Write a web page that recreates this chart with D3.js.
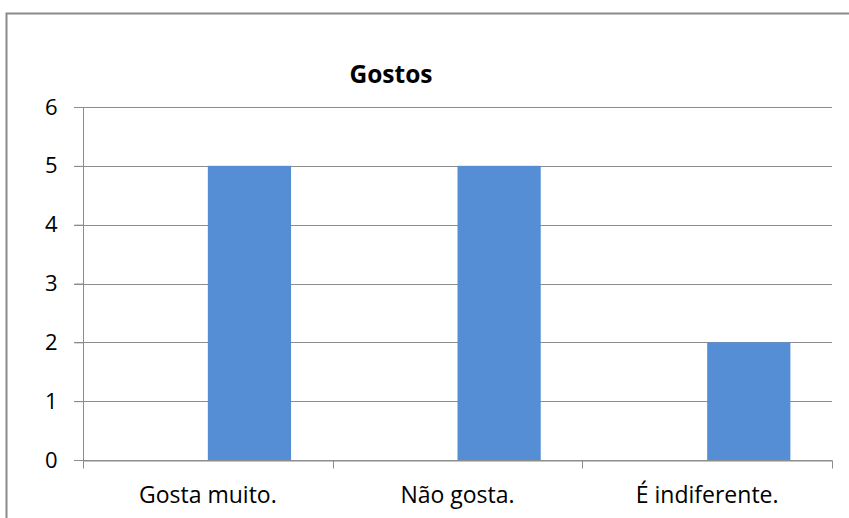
<!DOCTYPE html>
<html>
<head>
<meta charset="utf-8">
<script src="https://cdn.jsdelivr.net/npm/d3@7"></script>
<style>
  html, body { margin: 0; padding: 0; background: #fff; }
  svg { display: block; }
  text { font-family: "Open Sans", "Noto Sans", sans-serif; fill: #000; }
</style>
</head>
<body>
<svg id="chart" width="849" height="518"></svg>
<script>
// Chart data
const categories = ["Gosta muito.", "Não gosta.", "É indiferente."];
const values = [5, 5, 2];
const yTicks = [0, 1, 2, 3, 4, 5, 6];
const title = "Gostos";

const svg = d3.select("#chart");
const plot = { left: 83, right: 832, top: 107, bottom: 460 };
const labelFont = "Open Sans, sans-serif";

// Outer frame (runs off the right and bottom edges)
svg.append("rect")
  .attr("x", 6.5).attr("y", 13.5)
  .attr("width", 900).attr("height", 600)
  .attr("fill", "#fff")
  .attr("stroke", "#8a8a8a")
  .attr("stroke-width", 2);

const x = d3.scaleBand().domain(categories).range([plot.left, plot.right]).padding(0);
const y = d3.scaleLinear().domain([0, 6]).range([plot.bottom, plot.top]);

// Each category holds two bar slots; the value sits in the second one
const slot = d3.scaleBand().domain(["a", "b"]).range([0, x.bandwidth()]).paddingOuter(0.5).paddingInner(0);

// Horizontal gridlines
svg.append("g")
  .selectAll("line")
  .data(yTicks)
  .join("line")
  .attr("x1", plot.left - 9).attr("x2", plot.right)
  .attr("y1", d => Math.round(y(d)) + 0.5).attr("y2", d => Math.round(y(d)) + 0.5)
  .attr("stroke", "#8c8c8c").attr("stroke-width", 1);

// Bars
svg.append("g")
  .selectAll("rect")
  .data(categories)
  .join("rect")
  .attr("x", (d) => x(d) + slot("b"))
  .attr("width", slot.bandwidth())
  .attr("y", (d, i) => y(values[i]))
  .attr("height", (d, i) => y(0) - y(values[i]))
  .attr("fill", "#558ed5");

// Y axis
const yAxis = d3.axisLeft(y).tickValues(yTicks).tickFormat(d3.format("d")).tickSize(9).tickPadding(17);
const gy = svg.append("g").attr("transform", `translate(${plot.left + 0.5},0)`).call(yAxis);
gy.select(".domain").attr("stroke", "#8c8c8c").attr("d", `M0,${plot.top}V${plot.bottom + 8}`);
gy.selectAll(".tick line").attr("stroke", "#8c8c8c");
gy.selectAll(".tick text").attr("font-size", 22).attr("font-family", labelFont).attr("fill", "#000");

// X axis baseline and category dividers
const xAxis = d3.axisBottom(x).tickSize(0).tickPadding(26);
const gx = svg.append("g").attr("transform", `translate(0,${plot.bottom + 0.5})`).call(xAxis);
gx.select(".domain").attr("stroke", "#8c8c8c");
gx.selectAll(".tick text").attr("font-size", 23).attr("font-family", labelFont).attr("fill", "#000");
const dividers = categories.map(c => x(c)).concat([plot.right]);
gx.selectAll(".divider")
  .data(dividers)
  .join("line")
  .attr("class", "divider")
  .attr("x1", d => Math.round(d) + 0.5).attr("x2", d => Math.round(d) + 0.5)
  .attr("y1", 0).attr("y2", 8)
  .attr("stroke", "#8c8c8c");

// Title
svg.append("text")
  .attr("x", 391).attr("y", 83)
  .attr("text-anchor", "middle")
  .attr("font-size", 24.5).attr("font-weight", "bold")
  .text(title);
</script>
</body>
</html>
